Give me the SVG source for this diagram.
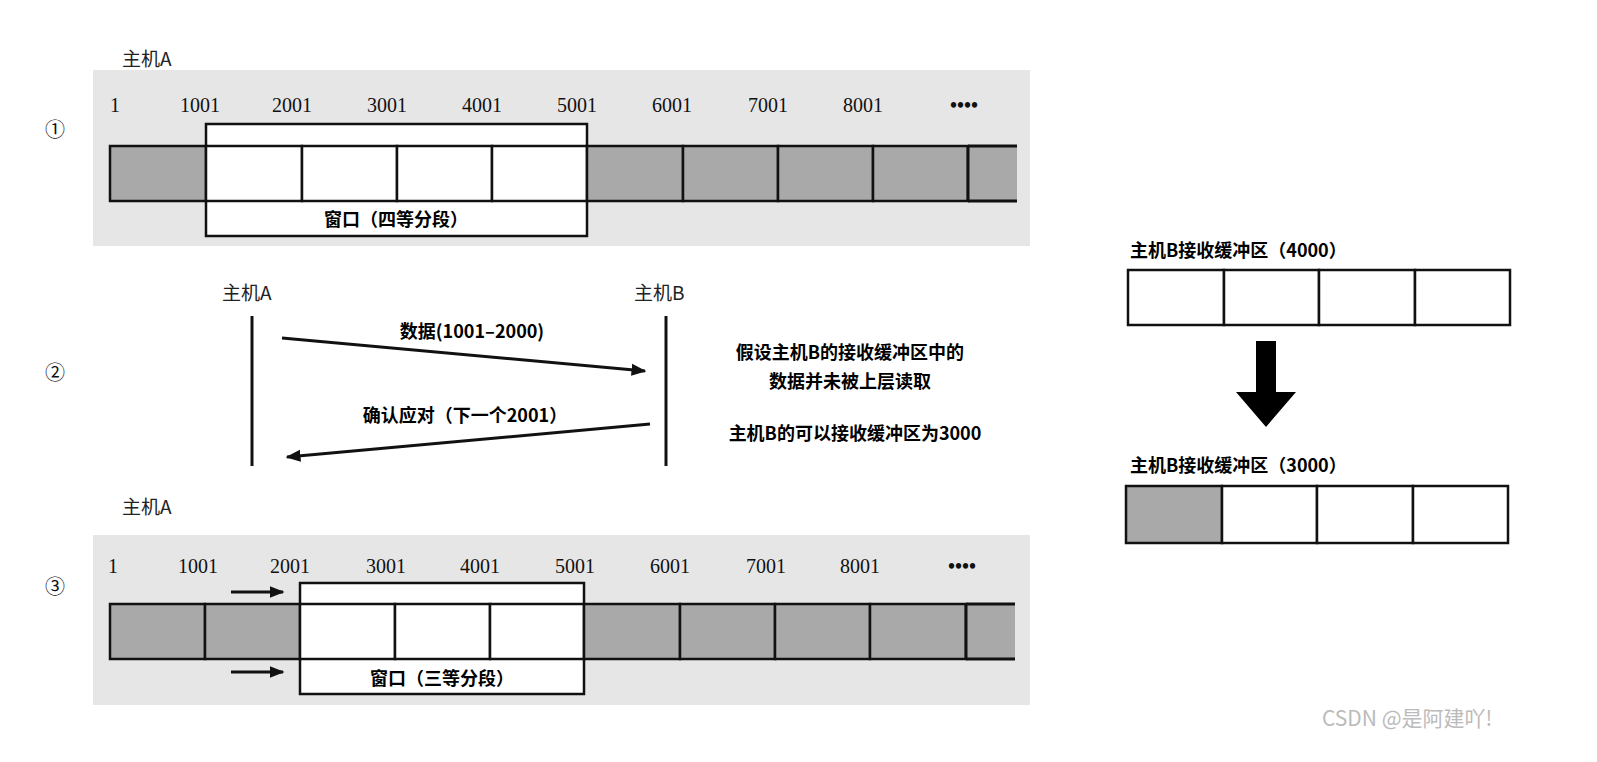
<svg xmlns="http://www.w3.org/2000/svg" width="1597" height="762" viewBox="0 0 1597 762">
<style>
.t{font-family:"Liberation Serif","Noto Sans CJK SC",serif;font-size:20px;fill:#111}
.c{font-family:"Noto Sans CJK SC",sans-serif;font-size:18px;fill:#000;font-weight:bold}
.h{font-family:"Noto Sans CJK SC",sans-serif;font-size:19px;fill:#222}
.g{fill:#a9a9a9;stroke:#111;stroke-width:2.5}
.w{fill:#fff;stroke:#111;stroke-width:2.5}
.ln{stroke:#111;stroke-width:3}
</style>
<defs>
<marker id="a" viewBox="0 0 10 10" refX="9" refY="5" markerWidth="5" markerHeight="5" orient="auto"><path d="M0,1 L10,5 L0,9z" fill="#111"/></marker>
</defs>
<rect width="1597" height="762" fill="#fff"/>
<g id="panel1">
<rect x="93" y="70" width="937" height="176" fill="#e6e6e6"/>
<text class="h" x="122" y="66">主机A</text>
<text class="t" x="45" y="137" font-size="24">①</text>
<g class="t"><text x="110" y="112">1</text><text x="180" y="112">1001</text><text x="272" y="112">2001</text><text x="367" y="112">3001</text><text x="462" y="112">4001</text><text x="557" y="112">5001</text><text x="652" y="112">6001</text><text x="748" y="112">7001</text><text x="843" y="112">8001</text><text x="950" y="112" font-weight="bold">••••</text></g>
<rect class="w" x="206" y="124" width="381" height="112"/>
<rect class="g" x="110" y="146" width="96" height="55"/>
<rect class="w" x="206" y="146" width="96" height="55"/><rect class="w" x="302" y="146" width="95" height="55"/><rect class="w" x="397" y="146" width="95" height="55"/><rect class="w" x="492" y="146" width="95" height="55"/>
<rect class="g" x="587" y="146" width="96" height="55"/><rect class="g" x="683" y="146" width="95" height="55"/><rect class="g" x="778" y="146" width="95" height="55"/><rect class="g" x="873" y="146" width="95" height="55"/>
<rect x="969" y="147" width="48" height="53" fill="#a9a9a9"/>
<path d="M968,146 H1017 M968,201 H1017 M968,146 V201" class="ln" fill="none"/>
<text class="c" x="396" y="226" text-anchor="middle">窗口（四等分段）</text>
</g>
<g id="panel2">
<text class="t" x="45" y="380" font-size="24">②</text>
<text class="h" x="222" y="300">主机A</text>
<text class="h" x="634" y="300">主机B</text>
<line class="ln" x1="252" y1="316" x2="252" y2="466"/>
<line class="ln" x1="666" y1="316" x2="666" y2="466"/>
<text class="c" x="472" y="338" text-anchor="middle">数据(1001–2000)</text>
<text class="c" x="465" y="422" text-anchor="middle">确认应对（下一个2001）</text>
<text class="c" x="850" y="359" text-anchor="middle">假设主机B的接收缓冲区中的</text>
<text class="c" x="850" y="388" text-anchor="middle">数据并未被上层读取</text>
<text class="c" x="855" y="440" text-anchor="middle">主机B的可以接收缓冲区为3000</text>
</g>
<g id="panel3">
<rect x="93" y="535" width="937" height="170" fill="#e6e6e6"/>
<text class="h" x="122" y="514">主机A</text>
<text class="t" x="45" y="594" font-size="24">③</text>
<g class="t"><text x="108" y="573">1</text><text x="178" y="573">1001</text><text x="270" y="573">2001</text><text x="366" y="573">3001</text><text x="460" y="573">4001</text><text x="555" y="573">5001</text><text x="650" y="573">6001</text><text x="746" y="573">7001</text><text x="840" y="573">8001</text><text x="948" y="573" font-weight="bold">••••</text></g>
<rect class="w" x="300" y="583" width="284" height="111"/>
<rect class="g" x="110" y="604" width="95" height="55"/><rect class="g" x="205" y="604" width="95" height="55"/>
<rect class="w" x="300" y="604" width="95" height="55"/><rect class="w" x="395" y="604" width="95" height="55"/><rect class="w" x="490" y="604" width="94" height="55"/>
<rect class="g" x="584" y="604" width="96" height="55"/><rect class="g" x="680" y="604" width="95" height="55"/><rect class="g" x="775" y="604" width="95" height="55"/><rect class="g" x="870" y="604" width="96" height="55"/>
<rect x="967" y="605" width="48" height="53" fill="#a9a9a9"/>
<path d="M966,604 H1015 M966,659 H1015 M966,604 V659" class="ln" fill="none"/>
<text class="c" x="442" y="685" text-anchor="middle">窗口（三等分段）</text>
</g>
<g id="connectors">
<line class="ln" x1="282" y1="338" x2="645" y2="371" marker-end="url(#a)"/>
<line class="ln" x1="650" y1="424" x2="287" y2="457" marker-end="url(#a)"/>
<line class="ln" x1="231" y1="592" x2="283" y2="592" marker-end="url(#a)"/>
<line class="ln" x1="231" y1="672" x2="283" y2="672" marker-end="url(#a)"/>
<path d="M1256,341 H1276 V392 H1296 L1266,427 L1236,392 H1256z" fill="#000"/>
</g>
<g id="buffer1">
<text class="c" x="1130" y="257">主机B接收缓冲区（4000）</text>
<rect class="w" x="1128" y="270" width="96" height="55"/><rect class="w" x="1224" y="270" width="95" height="55"/><rect class="w" x="1319" y="270" width="96" height="55"/><rect class="w" x="1415" y="270" width="95" height="55"/>
</g>
<g id="buffer2">
<text class="c" x="1130" y="472">主机B接收缓冲区（3000）</text>
<rect class="g" x="1126" y="486" width="96" height="57"/><rect class="w" x="1222" y="486" width="95" height="57"/><rect class="w" x="1317" y="486" width="96" height="57"/><rect class="w" x="1413" y="486" width="95" height="57"/>
</g>
<text x="1322" y="726" font-family="Noto Sans CJK SC,sans-serif" font-size="21" fill="#bbb">CSDN @是阿建吖!</text>
</svg>
